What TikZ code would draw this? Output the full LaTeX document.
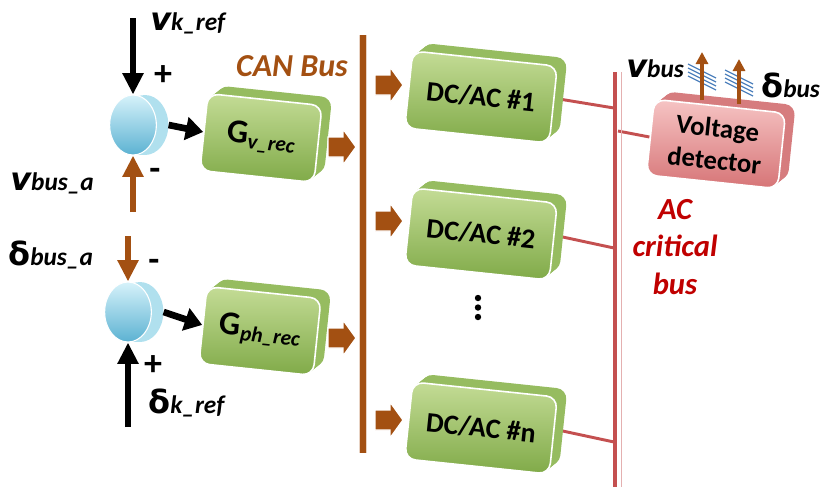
\documentclass[tikz,border=0pt]{standalone}
\usepackage{fontspec}
\setmainfont{Carlito}
\newfontfamily\dvfont{DejaVu Sans}
\usetikzlibrary{arrows.meta,shapes.geometric}
\pgfdeclarelayer{back}
\pgfsetlayers{back,main}

\definecolor{rust}{RGB}{163,80,18}
\definecolor{acred}{RGB}{196,80,80}
\definecolor{actext}{RGB}{192,0,0}
\definecolor{hblue}{RGB}{79,129,189}
\definecolor{gtop}{RGB}{196,220,150}
\definecolor{gbot}{RGB}{128,170,72}
\definecolor{gslab}{RGB}{150,188,96}
\definecolor{rtop}{RGB}{246,196,196}
\definecolor{rbot}{RGB}{214,116,118}
\definecolor{rslab}{RGB}{214,124,126}
\definecolor{dtop}{RGB}{214,242,250}
\definecolor{dbot}{RGB}{92,178,210}
\definecolor{drim}{RGB}{176,224,238}

\tikzset{
  blk/.style={rounded corners=8pt, inner sep=0pt, rotate=-6, align=center,
    font=\fontsize{21}{24}\selectfont\bfseries},
  greenface/.style={blk, draw=white, line width=1.2pt, top color=gtop, bottom color=gbot},
  greenslab/.style={blk, fill=gslab},
  redface/.style={blk, draw=white, line width=1.2pt, top color=rtop, bottom color=rbot,
    font=\fontsize{20}{24}\selectfont\bfseries},
  redslab/.style={blk, fill=rslab},
  discfront/.style={ellipse, minimum width=35pt, minimum height=45pt, inner sep=0pt,
    draw=white, line width=0.8pt, top color=dtop, bottom color=dbot},
  discback/.style={ellipse, minimum width=35pt, minimum height=45pt, inner sep=0pt,
    fill=drim},
  busarrow/.style={fill=rust, draw=white, line width=1pt, line join=miter},
  blkarrow/.style={line width=4pt, -{Triangle[length=16pt,width=15pt]}},
  feedarrow/.style={blkarrow, draw=rust, fill=rust},
  outarrow/.style={line width=5pt, -{Triangle[length=13pt,width=17pt]}},
  measarrow/.style={line width=3pt, draw=rust, -{Triangle[length=9pt,width=9pt,fill=rust]}},
  hatch/.style={draw=hblue, line width=1pt},
  acline/.style={draw=acred, line width=2.2pt, preaction={draw=white, line width=4.5pt}},
  sign/.style={font=\fontsize{27}{27}\selectfont\bfseries},
}

% variable with subscript: big letter followed by a smaller italic index
\newcommand\bigv[1]{{\dvfont\bfseries\itshape\fontsize{24}{24}\selectfont v}{\fontsize{19}{19}\selectfont\bfseries\itshape #1}}
\newcommand\bigd[1]{{\dvfont\bfseries\fontsize{24}{24}\selectfont δ}{\fontsize{19}{19}\selectfont\bfseries\itshape #1}}
\newcommand\gsub[1]{{\fontsize{25}{25}\selectfont G}\raisebox{-3pt}{\fontsize{16}{16}\selectfont\itshape #1}}

% raised block: a solid extrusion (stacked copies) behind a shaded face
% #1 colour family, #2 name, #3 x, #4 y, #5 width, #6 height, #7 text
\newcommand\raisedblock[7]{%
  \foreach \t in {10,9,...,1}{
    \node[#1slab, minimum width=#5, minimum height=#6] (#2-slab\t) at (#3+\t,#4-0.8*\t) {};
  }
  \node[#1face, minimum width=#5, minimum height=#6] (#2) at (#3,#4) {#7};
}

% summing junction drawn as a short cylinder
\newcommand\sumdisc[3]{%
  \node[discback] (#1b) at (#2+12,#3) {};
  \fill[drim] (#2,#3-29.5) rectangle (#2+12,#3+29.5);
  \node[discfront] (#1) at (#2,#3) {};
}

% fat block arrow pointing right, centred at (#1,#2)
\newcommand\blockarrow[2]{%
  \draw[busarrow] (#1-14,#2-10) -- (#1+1,#2-10) -- (#1+1,#2-18) -- (#1+14,#2)
    -- (#1+1,#2+18) -- (#1+1,#2+10) -- (#1-14,#2+10) -- cycle;
}

\begin{document}
\begin{tikzpicture}[x=0.75pt,y=-0.75pt]
\useasboundingbox (0,0) rectangle (827,487);

% ---- summing junctions ----
\sumdisc{s1}{133}{125}
\sumdisc{s2}{128}{312}

% ---- controller blocks ----
\raisedblock{green}{gv}{261}{138}{86pt}{58pt}{\gsub{v\_rec}}
\raisedblock{green}{gph}{260}{331}{86pt}{58pt}{\gsub{ph\_rec}}

% ---- inverters ----
\raisedblock{green}{dc1}{481}{97}{109pt}{58pt}{DC/AC \#1}
\raisedblock{green}{dc2}{481}{234}{109pt}{58pt}{DC/AC \#2}
\raisedblock{green}{dcn}{481}{428}{109pt}{58pt}{DC/AC \#n}

% ---- voltage detector ----
\raisedblock{red}{vd}{716}{144}{99pt}{57pt}{Voltage\\detector}

% ---- CAN bus ----
\coordinate (canT) at (363,35);
\coordinate (canB) at (363,453);
\draw[rust, line width=4.8pt, preaction={draw=rust!25, line width=6.5pt}] (canT) -- (canB);
\node[font=\fontsize{24}{24}\selectfont\bfseries\itshape, text=rust] (canlbl) at (292,66) {CAN Bus};

% ---- block arrows onto / off the CAN bus ----
\blockarrow{342}{147}
\blockarrow{342}{338}
\blockarrow{389}{85}
\blockarrow{389}{221}
\blockarrow{389}{420}

% ---- AC critical bus ----
\coordinate (acT) at (615,72);
\coordinate (acB) at (615,487);
\coordinate (acT2) at (621.5,72);
\coordinate (acB2) at (621.5,487);
\draw[acred, line width=3.2pt] (acT) -- (acB);
\draw[acred!45, line width=1.1pt] (acT2) -- (acB2);
\coordinate (b1) at (614,108);
\coordinate (b2) at (614,248);
\coordinate (bn) at (614,442);
\coordinate (bd) at (618,131);
\begin{pgfonlayer}{back}
  \draw[acline] (dc1.5) -- (b1);
  \draw[acline] (dc2.5) -- (b2);
  \draw[acline] (dcn.5) -- (bn);
  \draw[acline] (bd) -- (vd.west);
\end{pgfonlayer}
\node[font=\fontsize{23}{28}\selectfont\bfseries\itshape, text=actext, align=center] (aclbl) at (675,247) {AC\\critical\\bus};

% ---- dots between inverters ----
\fill (478,298) circle (2.4pt);
\fill (478,307.5) circle (2.4pt);
\fill (478,317) circle (2.4pt);

% ---- loop inputs ----
\coordinate (vin) at (133,18);
\coordinate (vbin) at (133,212);
\coordinate (dbin) at (128,236);
\coordinate (dkin) at (128,427);
\draw[blkarrow] (vin) -- (s1.north);
\draw[feedarrow] (vbin) -- (s1.south);
\draw[feedarrow] (dbin) -- (s2.north);
\draw[blkarrow] (dkin) -- (s2.south);
\draw[outarrow] (s1b.east) -- (gv.west);
\draw[outarrow] (s2b.east) -- (gph.west);

\node[sign] (p1) at (163,76) {+};
\node[sign] (m1) at (155,174) {-};
\node[sign] (m2) at (154,265) {-};
\node[sign] (p2) at (153,366) {+};

\node[anchor=base west, inner sep=0pt] (lvk) at (150,30) {\bigv{k\_ref}};
\node[anchor=base west, inner sep=0pt] (lvb) at (10,190) {\bigv{bus\_a}};
\node[anchor=base west, inner sep=0pt] (ldb) at (8,265) {\bigd{bus\_a}};
\node[anchor=base west, inner sep=0pt] (ldk) at (148,413) {\bigd{k\_ref}};

% ---- measured bus quantities ----
\foreach \k in {-1.5,-0.5,0.5,1.5}{
  \draw[hatch] (688,77+4*\k-7) -- (716,77+4*\k+7);
  \draw[hatch] (725,83+4*\k-7) -- (753,83+4*\k+7);
}
\coordinate (mv0) at (702,100);
\coordinate (mv1) at (702,52);
\coordinate (md0) at (739,104);
\coordinate (md1) at (739,59);
\draw[measarrow] (mv0) -- (mv1);
\draw[measarrow] (md0) -- (md1);
\node[anchor=base west, inner sep=0pt] (lvbus) at (626,77) {\bigv{bus}};
\node[anchor=base west, inner sep=0pt] (ldbus) at (761,97) {\bigd{bus}};

\end{tikzpicture}
\end{document}
